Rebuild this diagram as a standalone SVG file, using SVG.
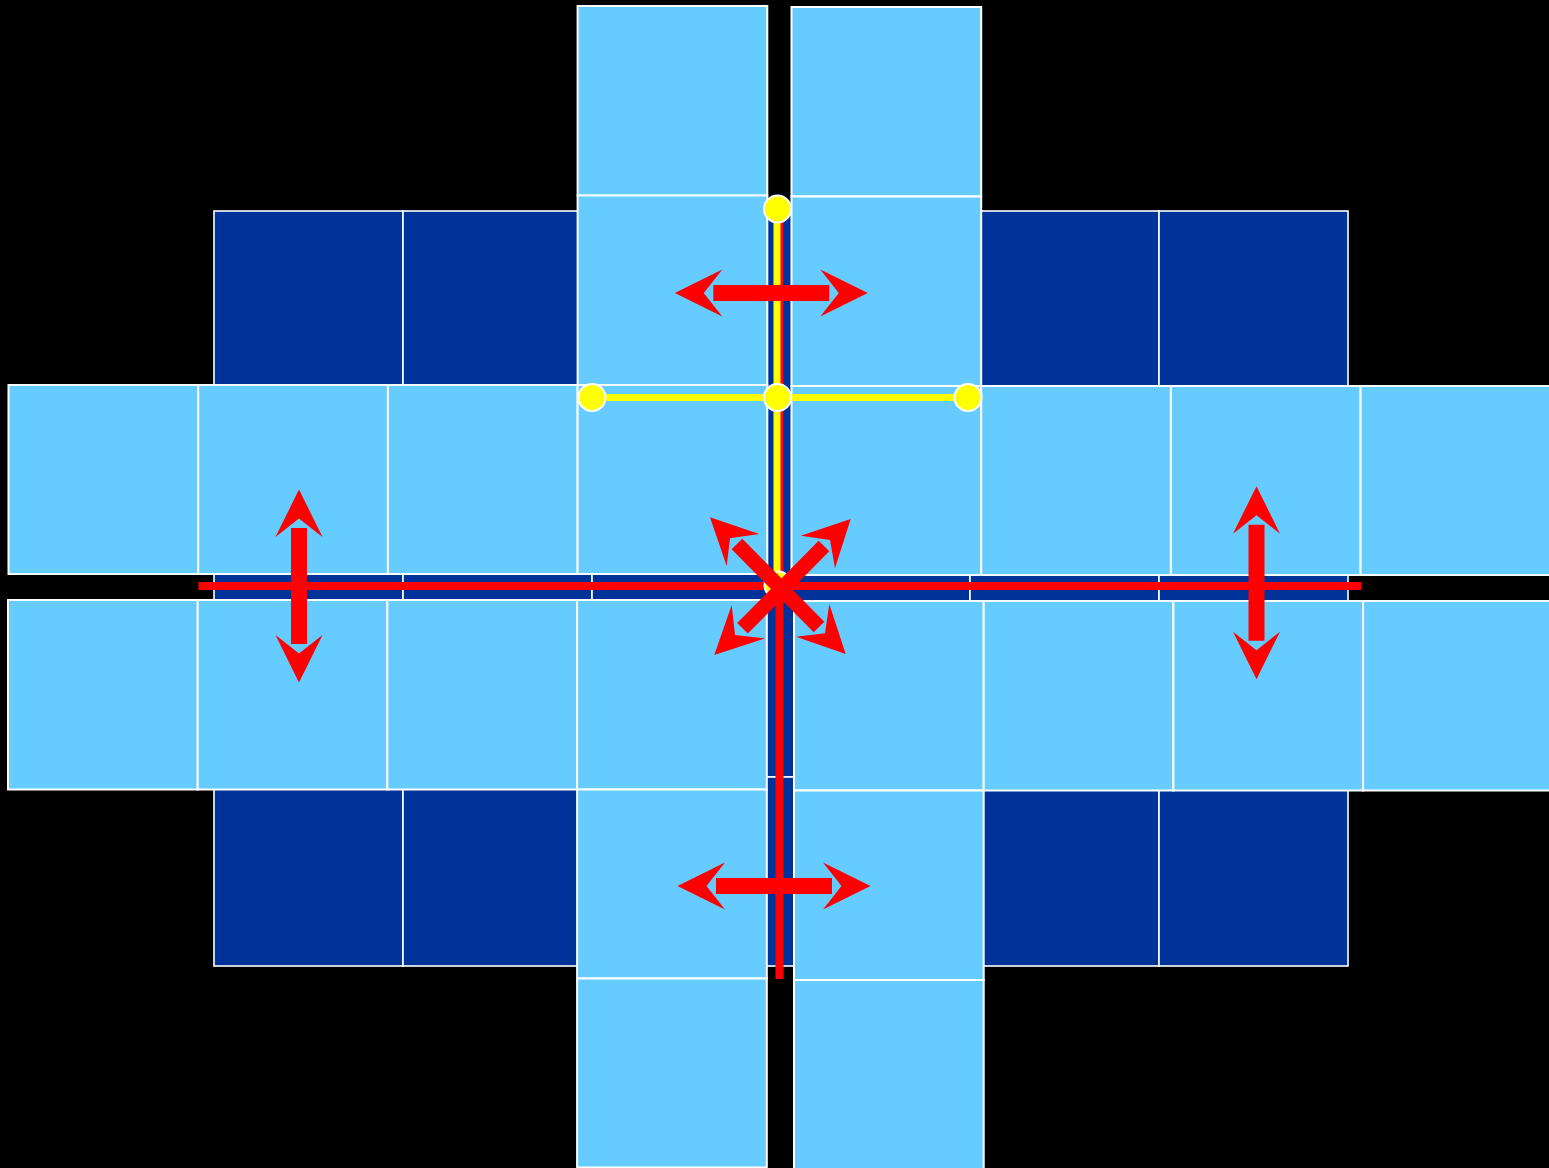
<svg xmlns="http://www.w3.org/2000/svg" xmlns:xlink="http://www.w3.org/1999/xlink" width="1549" height="1168" viewBox="0 0 1549 1168">
<style>
.dk{fill:#003399;stroke:#FFFFFF;stroke-width:1.6}
.lt{fill:#66CCFF;stroke:#FFFFFF;stroke-width:2}
.rl{stroke:#FF0000;fill:none}
.yl{stroke:#FFFF00;stroke-width:7;fill:none}
.yc{fill:#FFFF00;stroke:#FFFFFF;stroke-width:2}
.rf{fill:#FF0000}
</style>
<defs>
<g id="harrow">
<path class="rf" d="M-96.5,0 L-49,-23.5 L-67.5,0 L-49,23.5 Z M96.5,0 L49,-23.5 L67.5,0 L49,23.5 Z M-58,-8 H58 V8 H-58 Z"/>
</g>
</defs>
<rect x="0" y="0" width="1549" height="1168" fill="#000000"/>
<g id="dark-grid">
<rect class="dk" x="214" y="211" width="189" height="189"/>
<rect class="dk" x="403" y="211" width="189" height="189"/>
<rect class="dk" x="592" y="211" width="189" height="189"/>
<rect class="dk" x="781" y="211" width="189" height="189"/>
<rect class="dk" x="970" y="211" width="189" height="189"/>
<rect class="dk" x="1159" y="211" width="189" height="189"/>
<rect class="dk" x="214" y="400" width="189" height="189"/>
<rect class="dk" x="403" y="400" width="189" height="189"/>
<rect class="dk" x="592" y="400" width="189" height="189"/>
<rect class="dk" x="781" y="400" width="189" height="189"/>
<rect class="dk" x="970" y="400" width="189" height="189"/>
<rect class="dk" x="1159" y="400" width="189" height="189"/>
<rect class="dk" x="214" y="589" width="189" height="188"/>
<rect class="dk" x="403" y="589" width="189" height="188"/>
<rect class="dk" x="592" y="589" width="189" height="188"/>
<rect class="dk" x="781" y="589" width="189" height="188"/>
<rect class="dk" x="970" y="589" width="189" height="188"/>
<rect class="dk" x="1159" y="589" width="189" height="188"/>
<rect class="dk" x="214" y="777" width="189" height="189"/>
<rect class="dk" x="403" y="777" width="189" height="189"/>
<rect class="dk" x="592" y="777" width="189" height="189"/>
<rect class="dk" x="781" y="777" width="189" height="189"/>
<rect class="dk" x="970" y="777" width="189" height="189"/>
<rect class="dk" x="1159" y="777" width="189" height="189"/>
</g>
<g id="light-upper-left">
<rect class="lt" x="577.6" y="6" width="189.7" height="189.5"/>
<rect class="lt" x="577.6" y="195.5" width="189.7" height="189.5"/>
<rect class="lt" x="8.5" y="385" width="189.7" height="189"/>
<rect class="lt" x="198.2" y="385" width="189.7" height="189"/>
<rect class="lt" x="387.9" y="385" width="189.7" height="189"/>
<rect class="lt" x="577.6" y="385" width="189.7" height="189"/>
</g>
<g id="light-upper-right">
<rect class="lt" x="791.5" y="7" width="189.7" height="189.5"/>
<rect class="lt" x="791.5" y="196.5" width="189.7" height="189.5"/>
<rect class="lt" x="791.5" y="386" width="189.7" height="189"/>
<rect class="lt" x="981.2" y="386" width="189.7" height="189"/>
<rect class="lt" x="1170.9" y="386" width="189.7" height="189"/>
<rect class="lt" x="1360.6" y="386" width="189.7" height="189"/>
</g>
<g id="light-lower-left">
<rect class="lt" x="8" y="600" width="189.7" height="189.5"/>
<rect class="lt" x="197.7" y="600" width="189.7" height="189.5"/>
<rect class="lt" x="387.4" y="600" width="189.7" height="189.5"/>
<rect class="lt" x="577.1" y="600" width="189.7" height="189.5"/>
<rect class="lt" x="577.1" y="789.5" width="189.7" height="189"/>
<rect class="lt" x="577.1" y="978.5" width="189.7" height="189"/>
</g>
<g id="light-lower-right">
<rect class="lt" x="794" y="601" width="189.7" height="189.5"/>
<rect class="lt" x="983.7" y="601" width="189.7" height="189.5"/>
<rect class="lt" x="1173.4" y="601" width="189.7" height="189.5"/>
<rect class="lt" x="1363.1" y="601" width="189.7" height="189.5"/>
<rect class="lt" x="794" y="790.5" width="189.7" height="189.5"/>
<rect class="lt" x="794" y="980" width="189.7" height="189"/>
</g>
<g id="connectors">
<line class="rl" x1="198.5" y1="586" x2="1361.5" y2="586" stroke-width="8"/>
<line class="rl" x1="779.5" y1="209" x2="779.5" y2="979" stroke-width="8"/>
<line class="yl" x1="777" y1="209" x2="777" y2="585"/>
<line class="yl" x1="592" y1="397.5" x2="968" y2="397.5"/>
<circle class="yc" cx="777.5" cy="209" r="13.5"/>
<circle class="yc" cx="592" cy="397.5" r="13.5"/>
<circle class="yc" cx="777.5" cy="397.5" r="13.5"/>
<circle class="yc" cx="968" cy="397.5" r="13.5"/>
<circle class="yc" cx="778" cy="585" r="13.5"/>
</g>
<g id="arrows">
<use xlink:href="#harrow" href="#harrow" transform="translate(771.3,293)"/>
<use xlink:href="#harrow" href="#harrow" transform="translate(774,886)"/>
<use xlink:href="#harrow" href="#harrow" transform="translate(299,586) rotate(90)"/>
<use xlink:href="#harrow" href="#harrow" transform="translate(1256.5,582.7) rotate(90)"/>
</g>
<g id="center-cross">
<line class="rl" x1="737" y1="544" x2="819" y2="627" stroke-width="15"/>
<line class="rl" x1="824" y1="546" x2="742.5" y2="628.3" stroke-width="15"/>
<polygon class="rf" points="710,517.3 759.3,534 730,538.3 726.7,566"/>
<polygon class="rf" points="850.7,519 800.7,535.7 830,540 835,568.3"/>
<polygon class="rf" points="714.3,655 731.7,605 735,635 765,638.3"/>
<polygon class="rf" points="845.7,654 829.3,604 825,633.3 796,636.7"/>
</g>
</svg>
